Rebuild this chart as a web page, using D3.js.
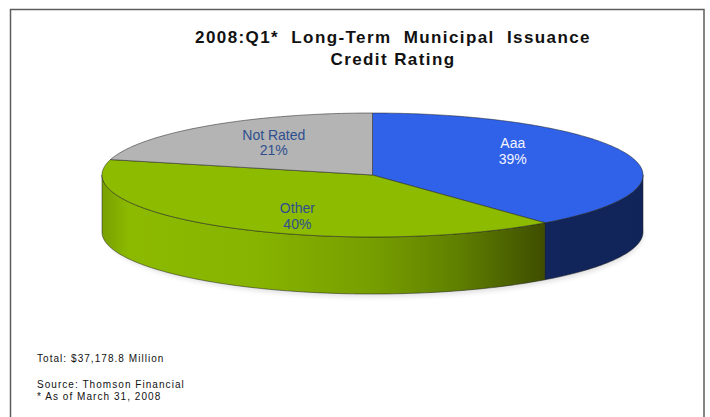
<!DOCTYPE html>
<html>
<head>
<meta charset="utf-8">
<script src="https://cdn.jsdelivr.net/npm/d3@7"></script>
<style>
  html, body { margin: 0; padding: 0; background: #fff; }
  svg { display: block; }
</style>
</head>
<body>
<svg id="chart" width="710" height="417"></svg>
<script>
// Credit rating mix of long-term municipal issuance, 2008 Q1
const categories = ["Aaa", "Other", "Not Rated"];
const shares = [39, 40, 21];
const titleLines = ["2008:Q1*  Long-Term  Municipal  Issuance", "Credit Rating"];
const footTotal = "Total: $37,178.8 Million";
const footNotes = ["Source: Thomson Financial", "* As of March 31, 2008"];

// styling
const topFill = { "Aaa": "#2f61e9", "Other": "#8dbb00", "Not Rated": "#b4b4b4" };
const labelFill = { "Aaa": "#f2f4ff", "Other": "#2f4f8f", "Not Rated": "#2f4f8f" };
const sideStops = {
  "Aaa": [[0, "#162c6a"], [1, "#112459"]],
  "Other": [[0, "#78a000"], [0.05, "#8cba00"], [0.28, "#87b400"], [0.5, "#779e00"],
            [0.66, "#5f7f00"], [0.83, "#3c4a00"], [1, "#364300"]],
  "Not Rated": [[0, "#8c8c8c"], [1, "#5a5a5a"]]
};
const labelShift = { "Aaa": [10, -14], "Other": [-2, 14], "Not Rated": [4, -3] };

const W = 710, H = 417;
const svg = d3.select("#chart");
const defs = svg.append("defs");

// frame
svg.append("rect")
  .attr("x", 10.5).attr("y", 9.5).attr("width", 693.5).attr("height", 430)
  .attr("fill", "#fff").attr("stroke", "#5c5c5c").attr("stroke-width", 1.5);

// title
const title = svg.append("text")
  .attr("text-anchor", "middle")
  .attr("font-family", "Liberation Sans, Arial, sans-serif")
  .attr("font-weight", "bold").attr("font-size", 17)
  .attr("letter-spacing", 1.4)
  .attr("fill", "#111");
titleLines.forEach((t, i) => {
  title.append("tspan").attr("x", 393).attr("y", 43 + i * 21.5)
    .attr("xml:space", "preserve").style("white-space", "pre").text(t);
});

// pie geometry (ellipse projected disc)
const cx = 372.5, cy = 175, rx = 270.5, ry = 62, depth = 57;
const pt = (a, dy = 0) => [cx + rx * Math.sin(a), cy - ry * Math.cos(a) + dy];
const arcPts = (a0, a1, dy = 0) => {
  const n = Math.max(2, Math.ceil(Math.abs(a1 - a0) * 60));
  return d3.range(n + 1).map(i => pt(a0 + (a1 - a0) * i / n, dy));
};
const line = d3.line();

const data = categories.map((c, i) => ({ name: c, value: shares[i] }));
const arcs = d3.pie().sort(null).value(d => d.value)
  .startAngle(0).endAngle(2 * Math.PI)(data);

// soft shadow under the disc
const blur = defs.append("filter").attr("id", "soft")
  .attr("x", "-10%").attr("y", "-50%").attr("width", "120%").attr("height", "200%");
blur.append("feGaussianBlur").attr("stdDeviation", 2.5);
svg.append("ellipse")
  .attr("cx", cx + 2).attr("cy", cy + depth + 3)
  .attr("rx", rx - 2).attr("ry", ry)
  .attr("fill", "#000").attr("opacity", 0.12).attr("filter", "url(#soft)");

// side gradients
categories.forEach((c, i) => {
  const g = defs.append("linearGradient").attr("id", "side" + i)
    .attr("gradientUnits", "userSpaceOnUse")
    .attr("x1", cx - rx).attr("x2", cx + rx).attr("y1", 0).attr("y2", 0);
  sideStops[c].forEach(([o, col]) =>
    g.append("stop").attr("offset", o).attr("stop-color", col));
});

// visible (front) walls
const sides = svg.append("g");
arcs.forEach((d, i) => {
  const lo = Math.max(d.startAngle, Math.PI / 2);
  const hi = Math.min(d.endAngle, 3 * Math.PI / 2);
  if (lo >= hi) return;
  const pts = arcPts(lo, hi).concat(arcPts(hi, lo, depth));
  sides.append("path")
    .attr("d", line(pts) + "Z")
    .attr("fill", `url(#side${i})`)
    .attr("stroke", "#222").attr("stroke-width", 0.7).attr("stroke-opacity", 0.75)
    .attr("stroke-linejoin", "round");
});

// top faces
const tops = svg.append("g");
arcs.forEach(d => {
  const pts = [[cx, cy]].concat(arcPts(d.startAngle, d.endAngle));
  tops.append("path")
    .attr("d", line(pts) + "Z")
    .attr("fill", topFill[d.data.name])
    .attr("stroke", "#222").attr("stroke-width", 0.7).attr("stroke-opacity", 0.75)
    .attr("stroke-linejoin", "round");
});

// slice labels at the area centroid of each top face
const labels = svg.append("g")
  .attr("font-family", "Liberation Sans, Arial, sans-serif")
  .attr("font-size", 14).attr("text-anchor", "middle");
arcs.forEach(d => {
  const span = d.endAngle - d.startAngle;
  const mid = (d.startAngle + d.endAngle) / 2;
  const f = 4 * Math.sin(span / 2) / (3 * span);
  const [sx, sy] = labelShift[d.data.name];
  const x = cx + f * rx * Math.sin(mid) + sx;
  const y = cy - f * ry * Math.cos(mid) + sy;
  const t = labels.append("text").attr("fill", labelFill[d.data.name]);
  t.append("tspan").attr("x", x).attr("y", y - 2).text(d.data.name);
  t.append("tspan").attr("x", x).attr("y", y + 13.5).text(d3.format(".0f")(d.data.value) + "%");
});

// footnotes
const foot = svg.append("g")
  .attr("font-family", "Liberation Sans, Arial, sans-serif")
  .attr("font-size", 10).attr("letter-spacing", 1.05).attr("fill", "#111");
foot.append("text").attr("x", 37).attr("y", 362).text(footTotal);
footNotes.forEach((t, i) =>
  foot.append("text").attr("x", 37).attr("y", 388 + i * 12).text(t));
</script>
</body>
</html>
